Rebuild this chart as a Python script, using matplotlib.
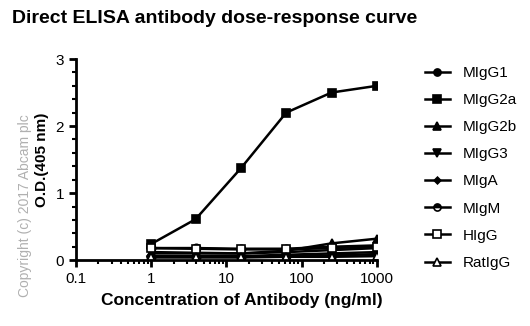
import matplotlib

matplotlib.use("Agg")

import matplotlib.pyplot as plt
from matplotlib.ticker import FixedLocator, LogLocator, NullFormatter, MultipleLocator

plt.rcParams["font.family"] = ["Liberation Sans", "DejaVu Sans"]

concentrations = [1, 3.9, 15.6, 62.5, 250, 1000]
series_names = ["MIgG1", "MIgG2a", "MIgG2b", "MIgG3", "MIgA", "MIgM", "HIgG", "RatIgG"]
migg1 = [0.18, 0.18, 0.17, 0.17, 0.2, 0.22]
migg2a = [0.24, 0.61, 1.37, 2.2, 2.5, 2.6]
migg2b = [0.1, 0.1, 0.1, 0.14, 0.25, 0.32]
migg3 = [0.12, 0.11, 0.1, 0.12, 0.15, 0.18]
miga = [0.06, 0.06, 0.06, 0.08, 0.1, 0.12]
migm = [0.05, 0.05, 0.05, 0.06, 0.07, 0.09]
higg = [0.18, 0.17, 0.16, 0.16, 0.18, 0.2]
ratigg = [0.04, 0.04, 0.04, 0.05, 0.05, 0.06]

series_values = [migg1, migg2a, migg2b, migg3, miga, migm, higg, ratigg]
markers = [
    dict(marker="o", mfc="black"),
    dict(marker="s", mfc="black"),
    dict(marker="^", mfc="black"),
    dict(marker="v", mfc="black"),
    dict(marker="D", mfc="black", markersize=4),
    dict(marker="o", mfc="black", fillstyle="top", markerfacecoloralt="white"),
    dict(marker="s", mfc="white"),
    dict(marker="^", mfc="white"),
]

fig = plt.figure(figsize=(5.3, 3.26), dpi=100)
ax = fig.add_axes([0.143, 0.202, 0.568, 0.617])

for name, values, style in zip(series_names, series_values, markers):
    kw = dict(color="black", linewidth=1.8, markersize=6, mec="black", mew=1.2)
    kw.update(style)
    ax.plot(concentrations, values, label=name, **kw)

ax.set_xscale("log")
ax.set_xlim(0.1, 1000)
ax.set_ylim(0, 3)
ax.xaxis.set_major_locator(FixedLocator([0.1, 1, 10, 100, 1000]))
ax.set_xticklabels(["0.1", "1", "10", "100", "1000"])
ax.xaxis.set_minor_locator(LogLocator(base=10, subs=range(2, 10)))
ax.xaxis.set_minor_formatter(NullFormatter())
ax.yaxis.set_major_locator(MultipleLocator(1))
ax.yaxis.set_minor_locator(MultipleLocator(0.2))

for side in ["top", "right"]:
    ax.spines[side].set_visible(False)
for side in ["left", "bottom"]:
    ax.spines[side].set_linewidth(2)
ax.tick_params(which="major", direction="out", length=5, width=2, labelsize=11)
ax.tick_params(which="minor", direction="out", length=3, width=1.5)

ax.set_xlabel("Concentration of Antibody (ng/ml)", fontsize=12.5, fontweight="bold",
              va="center")
ax.xaxis.set_label_coords(0.552, -0.2)
ax.set_ylabel("O.D.(405 nm)", fontsize=11, fontweight="bold", labelpad=5)

fig.text(0.022, 0.97, "Direct ELISA antibody dose-response curve", fontsize=14,
         fontweight="bold", va="top", ha="left")
fig.text(0.047, 0.37, "Copyright (c) 2017 Abcam plc", rotation=90, color="#b0b0b0",
         fontsize=10, ha="center", va="center")

fig.legend(loc="upper left", bbox_to_anchor=(0.775, 0.84), frameon=False, fontsize=11,
           handlelength=1.7, labelspacing=0.86, handletextpad=0.8, markerscale=0.85)

fig.savefig("out.png", dpi=100)
